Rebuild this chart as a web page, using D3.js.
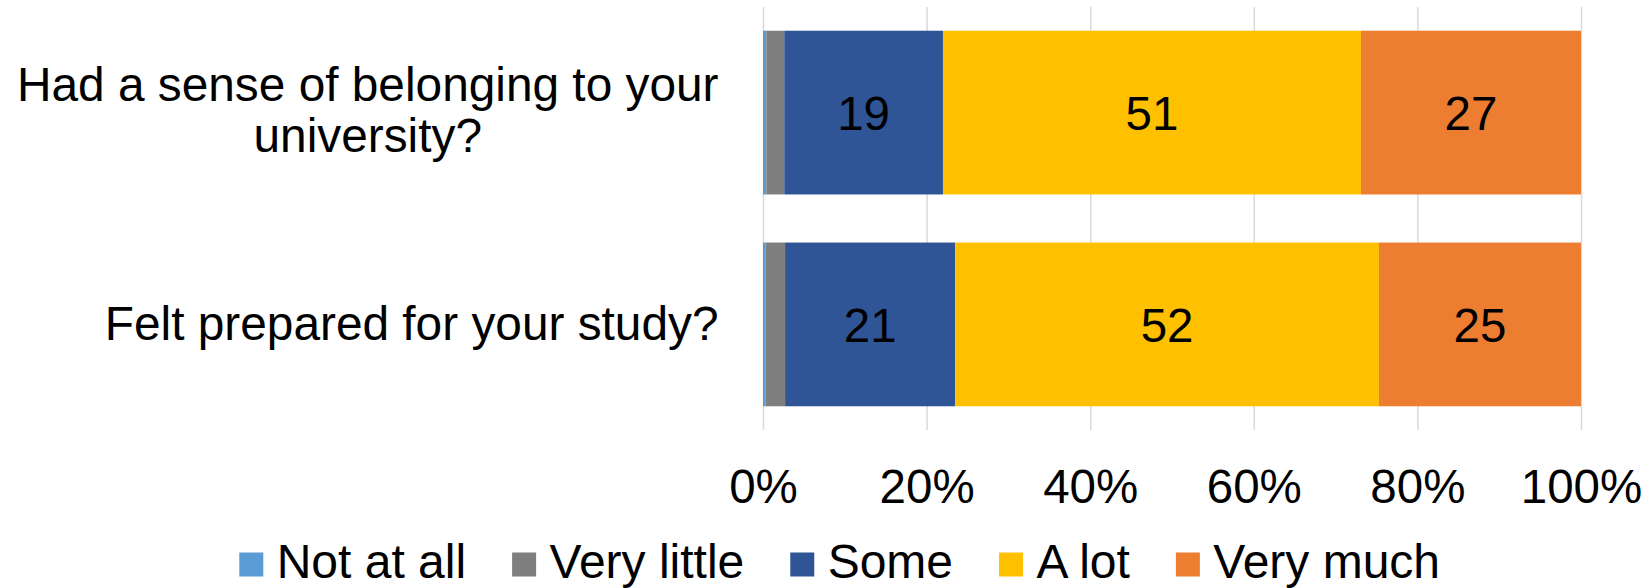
<!DOCTYPE html>
<html>
<head>
<meta charset="utf-8">
<script src="https://cdn.jsdelivr.net/npm/d3@7"></script>
<style>
  html, body { margin: 0; padding: 0; background: #fff; }
  svg { display: block; font-family: "Liberation Sans", Arial, sans-serif; }
</style>
</head>
<body>
<svg id="chart" width="1650" height="588"></svg>
<script>
// ---- data ----
const categories = ["Had a sense of belonging to your university?", "Felt prepared for your study?"];
const seriesNames = ["Not at all", "Very little", "Some", "A lot", "Very much"];
const notAtAll   = [0.4, 0.3];
const veryLittle = [2.2, 2.4];
const some       = [19.4, 20.8];
const aLot       = [51.1, 51.8];
const veryMuch   = [26.9, 24.7];
const labelledSeries = ["Some", "A lot", "Very much"];
const tickValues = [0, 20, 40, 60, 80, 100];
const tickLabels = ["0%", "20%", "40%", "60%", "80%", "100%"];
const colors = ["#5B9BD5", "#7F7F7F", "#2F5597", "#FFC000", "#ED7D31"];

const seriesValues = [notAtAll, veryLittle, some, aLot, veryMuch];
const table = categories.map((c, i) => {
  const row = { category: c };
  seriesNames.forEach((s, j) => row[s] = seriesValues[j][i]);
  return row;
});

// ---- layout ----
const svg = d3.select("#chart");
const plot = { left: 763, right: 1581, top: 7, bottom: 430 };
const x = d3.scaleLinear().domain([0, 100]).range([plot.left, plot.right]);
const y = d3.scaleBand().domain(categories).range([plot.top, plot.bottom])
  .paddingInner(0.227).paddingOuter(0.112);
const color = d3.scaleOrdinal().domain(seriesNames).range(colors);

// gridlines
const grid = svg.append("g")
  .attr("transform", `translate(0,${plot.bottom})`)
  .call(d3.axisBottom(x).tickValues(tickValues).tickSize(-(plot.bottom - plot.top)).tickFormat(""));
grid.select(".domain").remove();
grid.selectAll(".tick line").attr("stroke", "#d9d9d9").attr("stroke-width", 1.5);

// stacked bars
const stack = d3.stack().keys(seriesNames);
const layers = stack(table);
const gLayers = svg.append("g").selectAll("g").data(layers).join("g")
  .attr("fill", d => color(d.key));
gLayers.selectAll("rect").data(d => d.map(v => ({ key: d.key, v }))).join("rect")
  .attr("x", d => x(d.v[0]))
  .attr("width", d => x(d.v[1]) - x(d.v[0]))
  .attr("y", d => y(d.v.data.category))
  .attr("height", y.bandwidth());

// data labels
const gLabels = svg.append("g");
layers.filter(l => labelledSeries.includes(l.key)).forEach(l => {
  l.forEach(v => {
    gLabels.append("text")
      .attr("x", (x(v[0]) + x(v[1])) / 2)
      .attr("y", y(v.data.category) + y.bandwidth() / 2 + 17.5)
      .attr("text-anchor", "middle")
      .attr("font-size", 47.5)
      .attr("fill", "#000")
      .text(Math.round(v[1] - v[0]));
  });
});

// x axis labels
const xAxis = svg.append("g")
  .attr("transform", `translate(0,${plot.bottom})`)
  .call(d3.axisBottom(x).tickValues(tickValues).tickSize(0)
    .tickFormat((d, i) => tickLabels[i]));
xAxis.select(".domain").remove();
xAxis.selectAll("text")
  .attr("y", 73).attr("dy", 0)
  .attr("font-size", 47.5)
  .attr("font-family", "'Liberation Sans', Arial, sans-serif")
  .attr("fill", "#000");

// category labels (wrapped, block right-aligned, lines centered)
const labelRight = 718.5;
const catFont = 47.8;
const lineHeight = 51.7;
const maxW = 710;
categories.forEach(c => {
  const words = c.split(" ");
  const tmp = svg.append("text").attr("font-size", catFont);
  const lines = [];
  let cur = [];
  words.forEach(w => {
    const test = cur.concat([w]).join(" ");
    tmp.text(test);
    if (tmp.node().getComputedTextLength() > maxW && cur.length) {
      lines.push(cur.join(" "));
      cur = [w];
    } else cur.push(w);
  });
  lines.push(cur.join(" "));
  const widths = lines.map(l => { tmp.text(l); return tmp.node().getComputedTextLength(); });
  tmp.remove();
  const blockW = d3.max(widths);
  const cx = labelRight - blockW / 2;
  const mid = y(c) + y.bandwidth() / 2;
  const firstBase = mid + 16 - (lines.length - 1) * lineHeight / 2 - (lines.length > 1 ? 2 : 0);
  const t = svg.append("text").attr("font-size", catFont).attr("fill", "#000")
    .attr("text-anchor", "middle");
  lines.forEach((l, i) => {
    t.append("tspan").attr("x", cx).attr("y", firstBase + i * lineHeight).text(l);
  });
});

// legend
const legend = svg.append("g").attr("transform", "translate(239.3,0)");
let lx = 0;
seriesNames.forEach(s => {
  const g = legend.append("g").attr("transform", `translate(${lx},0)`);
  g.append("rect").attr("x", 0).attr("y", 552.5).attr("width", 24).attr("height", 24)
    .attr("fill", color(s));
  const tx = g.append("text").attr("x", 37.4).attr("y", 578)
    .attr("font-size", 48).attr("fill", "#000").text(s);
  lx += 37.4 + tx.node().getComputedTextLength() + 46;
});
</script>
</body>
</html>
